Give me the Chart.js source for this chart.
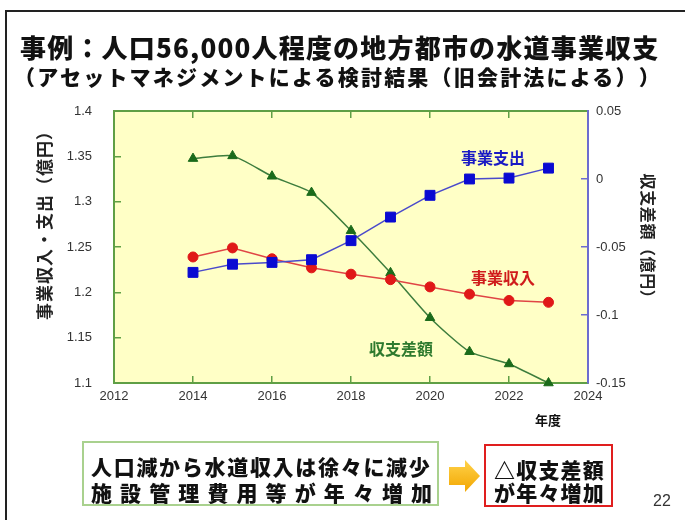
<!DOCTYPE html>
<html>
<head>
<meta charset="utf-8">
<script src="https://cdn.jsdelivr.net/npm/chart.js@4.4.1/dist/chart.umd.min.js"></script>
<style>
html, body { margin: 0; padding: 0; background: #fff; }
#wrap { position: relative; width: 685px; height: 520px; overflow: hidden; font-family: "Noto Sans CJK JP", sans-serif; color: #111; }
#wrap canvas { position: absolute; left: 0; top: 0; }
.frame { position: absolute; left: 5px; top: 10px; width: 800px; height: 600px; border-left: 2px solid #222; border-top: 2px solid #222; }
.abs { position: absolute; white-space: nowrap; line-height: 1; font-weight: 900; text-spacing-trim: space-all; }
.t1 { left: 20px; top: 34px; font-size: 26px; letter-spacing: 1.2px; }
.t2 { left: 14px; top: 66px; font-size: 21px; letter-spacing: 2.2px; }
.lbl { font-size: 16px; font-weight: 700; }
.box { position: absolute; box-sizing: border-box; }
.green { left: 82px; top: 441px; width: 357px; height: 65px; border: 2px solid #a9d18e; }
.red { left: 484px; top: 444px; width: 129px; height: 63px; border: 2px solid #e01e1e; }
.page { position: absolute; left: 653px; top: 492px; font-size: 16px; font-family: "Liberation Sans", sans-serif; color: #333; }
</style>
</head>
<body>
<div id="wrap">
  <div class="frame"></div>
  <canvas id="chart" width="685" height="520"></canvas>
  <div class="abs t1">事例：人口56,000人程度の地方都市の水道事業収支</div>
  <div class="abs t2">（アセットマネジメントによる検討結果（旧会計法による））</div>
  <div class="abs lbl" style="left:461px;top:149px;color:#1a1ac4;">事業支出</div>
  <div class="abs lbl" style="left:471px;top:269px;color:#d01c1c;">事業収入</div>
  <div class="abs lbl" style="left:369px;top:340px;color:#2e7a2e;">収支差額</div>
  <div class="abs" style="left:535px;top:413px;font-size:13px;font-weight:700;">年度</div>
  <div class="box green"></div>
  <div class="abs" style="left:91px;top:456px;font-size:21px;letter-spacing:1.7px;">人口減から水道収入は徐々に減少</div>
  <div class="abs" style="left:91px;top:482px;font-size:21px;letter-spacing:8.1px;">施設管理費用等が年々増加</div>
  <svg class="box" style="left:446px;top:458px;" width="36" height="36" viewBox="446 458 36 36">
    <defs>
      <linearGradient id="ag" x1="0" y1="0" x2="0" y2="1">
        <stop offset="0" stop-color="#ffd24a"/>
        <stop offset="1" stop-color="#f2a600"/>
      </linearGradient>
    </defs>
    <polygon points="449,467 465,467 465,460 480,476 465,492 465,485 449,485" fill="url(#ag)"/>
  </svg>
  <div class="box red"></div>
  <div class="abs" style="left:494px;top:459px;font-size:21px;letter-spacing:1.2px;">△収支差額</div>
  <div class="abs" style="left:494px;top:482px;font-size:21px;letter-spacing:1.2px;">が年々増加</div>
  <div class="page">22</div>
</div>
<script>
// 年度と各系列（億円）
var years = [2014, 2015, 2016, 2017, 2018, 2019, 2020, 2021, 2022, 2023];
var revenue = [1.239, 1.249, 1.237, 1.227, 1.220, 1.214, 1.206, 1.198, 1.191, 1.189];
var expense = [1.222, 1.231, 1.233, 1.236, 1.257, 1.283, 1.307, 1.325, 1.326, 1.337];
var balance = [0.015, 0.017, 0.002, -0.010, -0.038, -0.069, -0.102, -0.127, -0.136, -0.150];

// 目盛り
var xTicks = [2012, 2014, 2016, 2018, 2020, 2022, 2024];
var xTickLabels = ['2012', '2014', '2016', '2018', '2020', '2022', '2024'];
var leftTicks = [1.1, 1.15, 1.2, 1.25, 1.3, 1.35, 1.4];
var leftTickLabels = ['1.1', '1.15', '1.2', '1.25', '1.3', '1.35', '1.4'];
var rightTicks = [-0.15, -0.1, -0.05, 0, 0.05];
var rightTickLabels = ['-0.15', '-0.1', '-0.05', '0', '0.05'];

var tickFont = { family: '"Liberation Sans", Arial, sans-serif', size: 13 };
var plotGreen = '#5f9f45';
var plotBlue = '#6c6cd0';

function pts(vals) {
    return years.map(function (y, i) { return { x: y, y: vals[i] }; });
}

var plotBg = {
    id: 'plotBg',
    beforeDraw: function (chart) {
        var a = chart.chartArea, ctx = chart.ctx;
        ctx.save();
        ctx.fillStyle = '#ffffc6';
        ctx.fillRect(a.left, a.top, a.right - a.left, a.bottom - a.top);
        ctx.restore();
    },
    afterDraw: function (chart) {
        var ctx = chart.ctx;
        ctx.save();
        ctx.fillStyle = '#222';
        ctx.textAlign = 'center';
        ctx.textBaseline = 'middle';
        ctx.font = 'bold 17px "Noto Sans CJK JP", sans-serif';
        ctx.letterSpacing = '1px';
        ctx.translate(45, 221);
        ctx.rotate(-Math.PI / 2);
        ctx.fillText('事業収入・支出（億円）', 0, 0);
        ctx.restore();

        ctx.save();
        ctx.fillStyle = '#222';
        ctx.textAlign = 'center';
        ctx.textBaseline = 'middle';
        ctx.font = 'bold 16px "Noto Sans CJK JP", sans-serif';
        ctx.letterSpacing = '0.6px';
        ctx.translate(648, 240);
        ctx.rotate(Math.PI / 2);
        ctx.fillText('収支差額（億円）', 0, 0);
        ctx.restore();
    }
};

function setTicks(list) {
    return function (scale) {
        scale.ticks = list.map(function (v) { return { value: v }; });
    };
}

new Chart(document.getElementById('chart'), {
    type: 'line',
    data: {
        datasets: [{
            label: '事業支出',
            data: pts(expense),
            yAxisID: 'y',
            order: 0,
            borderColor: '#4a4acb',
            borderWidth: 1.5,
            pointStyle: 'rect',
            pointRadius: 7,
            pointBackgroundColor: '#0a0ad2',
            pointBorderColor: '#0a0ad2',
            pointBorderWidth: 1,
            tension: 0,
            clip: false
        }, {
            label: '事業収入',
            data: pts(revenue),
            yAxisID: 'y',
            order: 1,
            borderColor: '#e04545',
            borderWidth: 1.5,
            pointStyle: 'circle',
            pointRadius: 5,
            pointBackgroundColor: '#e01818',
            pointBorderColor: '#e01818',
            pointBorderWidth: 1,
            tension: 0,
            clip: false
        }, {
            label: '収支差額',
            data: pts(balance),
            yAxisID: 'y2',
            order: 2,
            borderColor: '#3d7d3d',
            borderWidth: 1.5,
            pointStyle: 'triangle',
            pointRadius: 5.5,
            pointBackgroundColor: '#1b6b1b',
            pointBorderColor: '#1b6b1b',
            pointBorderWidth: 1,
            tension: 0.2,
            clip: false
        }]
    },
    options: {
        responsive: false,
        animation: false,
        events: [],
        layout: { padding: { top: 111, left: 0, right: 0, bottom: 0 } },
        plugins: { legend: { display: false }, tooltip: { enabled: false } },
        scales: {
            x: {
                type: 'linear', position: 'bottom', min: 2012, max: 2024,
                afterBuildTicks: setTicks(xTicks),
                afterFit: function (s) { s.height = 137; },
                grid: { drawOnChartArea: false, color: plotGreen, lineWidth: 1.5, tickLength: -7 },
                border: { color: plotGreen, width: 2 },
                ticks: { padding: 13, color: '#333', font: tickFont, maxRotation: 0,
                    callback: function (v, i) { return xTickLabels[i]; } }
            },
            xTop: {
                type: 'linear', position: 'top', min: 2012, max: 2024,
                afterBuildTicks: setTicks(xTicks),
                afterFit: function (s) { s.height = 0; },
                grid: { drawOnChartArea: false, color: plotGreen, lineWidth: 1.5, tickLength: -7 },
                border: { color: plotGreen, width: 2 },
                ticks: { display: false }
            },
            y: {
                type: 'linear', position: 'left', min: 1.1, max: 1.4,
                afterBuildTicks: setTicks(leftTicks),
                afterFit: function (s) { s.width = 114; },
                grid: { drawOnChartArea: false, color: plotGreen, lineWidth: 1.5, tickLength: -7 },
                border: { color: plotGreen, width: 2 },
                ticks: { padding: 29, color: '#333', font: tickFont,
                    callback: function (v, i) { return leftTickLabels[i]; } }
            },
            y2: {
                type: 'linear', position: 'right', min: -0.15, max: 0.05,
                afterBuildTicks: setTicks(rightTicks),
                afterFit: function (s) { s.width = 97; },
                grid: { drawOnChartArea: false, color: plotBlue, lineWidth: 1.5, tickLength: -7 },
                border: { color: plotBlue, width: 2 },
                ticks: { padding: 15, color: '#333', font: tickFont,
                    callback: function (v, i) { return rightTickLabels[i]; } }
            }
        }
    },
    plugins: [plotBg]
});
</script>
</body>
</html>
